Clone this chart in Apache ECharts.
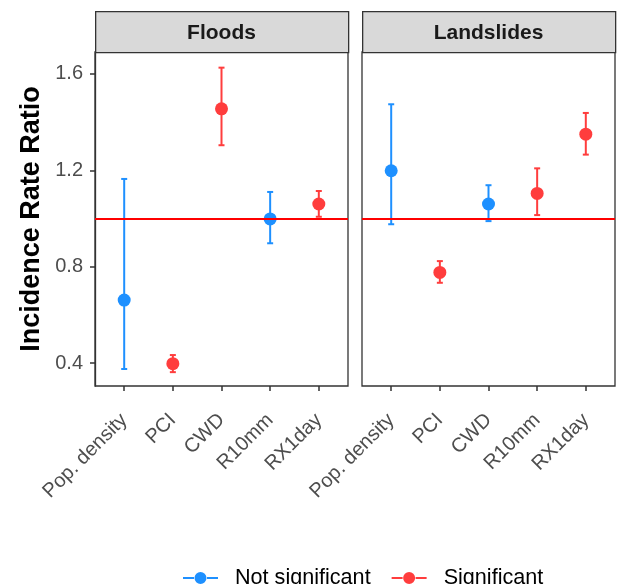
<!DOCTYPE html>
<html>
<head>
<meta charset="utf-8">
<script src="https://cdn.jsdelivr.net/npm/echarts@6/dist/echarts.min.js"></script>
<style>
  html, body { margin: 0; padding: 0; background: #fff; }
  #chart { width: 617px; height: 584px; }
</style>
</head>
<body>
<div id="chart"></div>
<script>
// categories along x, same for both panels
const categories = ['Pop. density', 'PCI', 'CWD', 'R10mm', 'RX1day'];
const panels = ['Floods', 'Landslides'];
const yTicks = [0.4, 0.8, 1.2, 1.6];

// Floods
const floodsIRR = [0.661, 0.397, 1.455, 0.998, 1.060];
const floodsLower = [0.375, 0.362, 1.304, 0.897, 1.007];
const floodsUpper = [1.164, 0.433, 1.626, 1.110, 1.114];
const floodsSig = [0, 1, 1, 0, 1];

// Landslides
const slidesIRR = [1.198, 0.776, 1.060, 1.104, 1.350];
const slidesLower = [0.976, 0.733, 0.989, 1.014, 1.265];
const slidesUpper = [1.474, 0.823, 1.138, 1.208, 1.438];
const slidesSig = [0, 1, 0, 1, 1];

const blue = '#1E90FF';
const red = '#FF3D3D';
const font = 'Liberation Sans, Arial, sans-serif';

let chart = echarts.init(document.getElementById('chart'));

let gridLeft = [95, 362];
let gridWidth = 253;
let gridTop = 52;
let gridHeight = 334;

function points(irr, sig, want) {
    let out = [];
    for (let i = 0; i < irr.length; i++) {
        if (sig[i] === want) out.push([i, irr[i]]);
    }
    return out;
}

function bars(lower, upper, sig) {
    let out = [];
    for (let i = 0; i < lower.length; i++) {
        out.push([i, lower[i], upper[i], sig[i]]);
    }
    return out;
}

function renderBar(params, api) {
    let x = api.value(0);
    let lo = api.coord([x, api.value(1)]);
    let hi = api.coord([x, api.value(2)]);
    let color = api.value(3) ? red : blue;
    let cap = 3;
    let style = { stroke: color, lineWidth: 2 };
    return {
        type: 'group',
        children: [
            { type: 'line', shape: { x1: lo[0], y1: lo[1], x2: hi[0], y2: hi[1] }, style: style },
            { type: 'line', shape: { x1: lo[0] - cap, y1: lo[1], x2: lo[0] + cap, y2: lo[1] }, style: style },
            { type: 'line', shape: { x1: hi[0] - cap, y1: hi[1], x2: hi[0] + cap, y2: hi[1] }, style: style }
        ]
    };
}

let grids = [], xAxes = [], yAxes = [], series = [], graphics = [];
let sets = [
    [floodsIRR, floodsLower, floodsUpper, floodsSig],
    [slidesIRR, slidesLower, slidesUpper, slidesSig]
];

for (let p = 0; p < 2; p++) {
    grids.push({
        left: gridLeft[p], top: gridTop, width: gridWidth, height: gridHeight,
        show: true, borderColor: '#333333', borderWidth: 1.3, backgroundColor: '#fff'
    });
    xAxes.push({
        type: 'value', gridIndex: p, min: -0.6, max: 4.6,
        axisLine: { show: false, onZero: false },
        splitLine: { show: false },
        axisTick: { show: true, customValues: [0, 1, 2, 3, 4], length: 5, lineStyle: { color: '#333333', width: 1.5 } },
        axisLabel: {
            customValues: [0, 1, 2, 3, 4],
            rotate: 45, margin: 31,
            fontFamily: font, fontSize: 20, color: '#4D4D4D',
            formatter: function (v) { return categories[Math.round(v)]; }
        }
    });
    yAxes.push({
        type: 'value', gridIndex: p, min: 0.3045, max: 1.691,
        position: 'left',
        name: p === 0 ? 'Incidence Rate Ratio' : '',
        nameLocation: 'middle', nameRotate: 90, nameGap: 50,
        nameTextStyle: { fontFamily: font, fontSize: 27, fontWeight: 'bold', color: '#000' },
        axisLine: { show: p === 0, onZero: false, lineStyle: { color: '#333333', width: 1.3 } },
        splitLine: { show: false },
        axisTick: { show: p === 0, customValues: yTicks, length: 5, lineStyle: { color: '#333333', width: 1.5 } },
        axisLabel: {
            show: p === 0, customValues: yTicks, margin: 12,
            fontFamily: font, fontSize: 20, color: '#4D4D4D',
            formatter: function (v) { return v.toFixed(1); }
        }
    });

    let d = sets[p];
    series.push({
        type: 'custom', xAxisIndex: p, yAxisIndex: p, z: 2,
        renderItem: renderBar,
        data: bars(d[1], d[2], d[3]),
        silent: true,
        markLine: {
            silent: true, symbol: 'none', label: { show: false },
            lineStyle: { color: '#FF0000', width: 2, type: 'solid' },
            data: [{ yAxis: 1 }]
        }
    });
    series.push({
        name: 'Not significant', type: 'scatter', xAxisIndex: p, yAxisIndex: p, z: 3,
        symbolSize: 13, itemStyle: { color: blue, opacity: 1 },
        data: points(d[0], d[3], 0)
    });
    series.push({
        name: 'Significant', type: 'scatter', xAxisIndex: p, yAxisIndex: p, z: 3,
        symbolSize: 13, itemStyle: { color: red, opacity: 1 },
        data: points(d[0], d[3], 1)
    });

    // facet strip
    graphics.push({
        type: 'rect', left: gridLeft[p], top: 11,
        shape: { width: gridWidth, height: 41 },
        style: { fill: '#D9D9D9', stroke: '#333333', lineWidth: 1.3 }
    });
    graphics.push({
        type: 'text', x: gridLeft[p] + gridWidth / 2, y: 33,
        style: {
            text: panels[p], fontFamily: font, fontSize: 21, fontWeight: 'bold',
            fill: '#1A1A1A', align: 'center', verticalAlign: 'middle'
        }
    });
}

let legendIcon = 'path://M0,6H11V8H0Z M24,6H35V8H24Z M11.5,7A6,6 0 1,0 23.5,7A6,6 0 1,0 11.5,7Z';

let option = {
    animation: false,
    backgroundColor: '#fff',
    grid: grids,
    xAxis: xAxes,
    yAxis: yAxes,
    legend: {
        left: 178, top: 562,
        itemWidth: 35, itemHeight: 14, itemGap: 21,
        data: [
            { name: 'Not significant', icon: legendIcon, itemStyle: { color: blue } },
            { name: 'Significant', icon: legendIcon, itemStyle: { color: red } }
        ],
        textStyle: { fontFamily: font, fontSize: 21.6, color: '#000', padding: [0, 0, 0, 12] }
    },
    graphic: graphics,
    series: series
};
chart.setOption(option);
</script>
</body>
</html>
